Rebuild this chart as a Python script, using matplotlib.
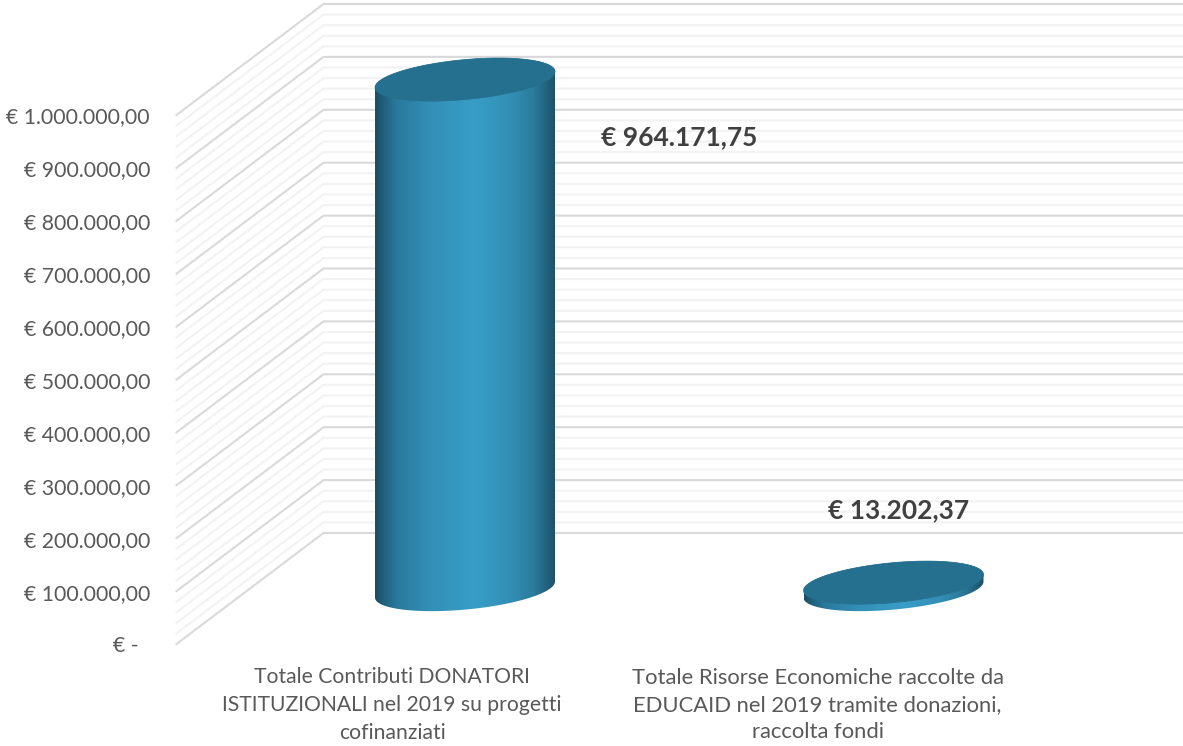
import numpy as np
import matplotlib
matplotlib.use('Agg')
import matplotlib.pyplot as plt
from matplotlib.colors import LinearSegmentedColormap
from matplotlib.patches import Polygon

# dati
categories = ['Totale Contributi DONATORI\nISTITUZIONALI nel 2019 su progetti\ncofinanziati',
              'Totale Risorse Economiche raccolte da\nEDUCAID nel 2019 tramite donazioni,\nraccolta fondi']
values = [964171.75, 13202.37]
value_labels = ['€ 964.171,75', '€ 13.202,37']
major_ticks = [0, 100000, 200000, 300000, 400000, 500000, 600000, 700000, 800000, 900000, 1000000]
tick_labels = ['€ -  ', '€ 100.000,00', '€ 200.000,00', '€ 300.000,00', '€ 400.000,00', '€ 500.000,00',
               '€ 600.000,00', '€ 700.000,00', '€ 800.000,00', '€ 900.000,00', '€ 1.000.000,00']

W, H = 1183, 746
FRONT_X0 = 176.5     # px of the front left corner
ZERO_Y = 644.0       # px of value 0 on the front
PX_CAT = 429.5       # px per category
PX_EURO = 529 / 1e6  # px per euro
DEPTH_X = 147.0 / PX_CAT
DEPTH_Y = 111.0 / PX_EURO

plt.rcParams['font.family'] = ['Lato', 'DejaVu Sans']
fig = plt.figure(figsize=(W / 100, H / 100), dpi=100)
ax = fig.add_axes([0, 0, 1, 1])
ax.set_xlim((0 - FRONT_X0) / PX_CAT, (W - FRONT_X0) / PX_CAT)
ax.set_ylim((ZERO_Y - H) / PX_EURO, ZERO_Y / PX_EURO)
ax.axis('off')


def px_x(px):
    return (px - FRONT_X0) / PX_CAT


def px_y(py):
    return (ZERO_Y - py) / PX_EURO


# griglia sulle pareti (minor ogni 20k, major ogni 100k)
for val in np.arange(0, 1000001, 20000):
    if val % 100000 == 0:
        continue
    ax.plot([0, DEPTH_X, 2 + DEPTH_X], [val, val + DEPTH_Y, val + DEPTH_Y],
            color='#F2F2F2', lw=1.5, zorder=1, solid_joinstyle='miter')
for val in major_ticks:
    ax.plot([0, DEPTH_X, 2 + DEPTH_X], [val, val + DEPTH_Y, val + DEPTH_Y],
            color='#D9D9D9', lw=1.5, zorder=2, solid_joinstyle='miter')

for val, lab in zip(major_ticks, tick_labels):
    ax.text(px_x(150), val - 2.5 / PX_EURO, lab, ha='right', va='center', fontsize=15.3, color='#595959')

cat_label_x = [392, 817.5]
cat_label_size = [15.2, 15.8]
for lx, fs, lab in zip(cat_label_x, cat_label_size, categories):
    ax.text(px_x(lx), px_y(705), lab, ha='center', va='center', fontsize=fs,
            color='#595959', linespacing=30 / (fs * 1.333))

# cilindri
gradient = LinearSegmentedColormap.from_list('cyl', [
    (0.0, '#1C4E64'), (0.04, '#215F7A'), (0.12, '#2A7A9E'), (0.3, '#338FB6'),
    (0.55, '#389EC7'), (0.75, '#338FB5'), (0.88, '#2B7B9C'), (0.96, '#215F79'), (1.0, '#1D5268')])
HALF_W = 90 / PX_CAT
SHEAR = 8 / PX_EURO
MINOR = 20 / PX_EURO
DEPTH_POS = 0.49
COL_X = [465, 893.5]  # px centre of each column


def ellipse(cx, cy, t):
    return cx + HALF_W * np.cos(t), cy + SHEAR * np.cos(t) + MINOR * np.sin(t)


for col_px, val in zip(COL_X, values):
    cx = px_x(col_px)
    cy = DEPTH_POS * DEPTH_Y
    bx, by = ellipse(cx, cy, np.linspace(np.pi, 2 * np.pi, 120))
    tx, ty = ellipse(cx, cy + val, np.linspace(0, np.pi, 120))
    body = np.column_stack([np.r_[bx, tx], np.r_[by, ty]])
    im = ax.imshow(np.linspace(0, 1, 400).reshape(1, -1), cmap=gradient, aspect='auto',
                   extent=[cx - HALF_W, cx + HALF_W, cy - 2 * MINOR, cy + val + 2 * MINOR],
                   interpolation='bilinear', zorder=3)
    patch = Polygon(body, closed=True, transform=ax.transData, facecolor='none', edgecolor='none')
    ax.add_patch(patch)
    im.set_clip_path(patch)
    ex, ey = ellipse(cx, cy + val, np.linspace(0, 2 * np.pi, 240))
    ax.fill(ex, ey, color='#26708F', lw=0.5, zorder=4)

ax.set_xlim((0 - FRONT_X0) / PX_CAT, (W - FRONT_X0) / PX_CAT)
ax.set_ylim((ZERO_Y - H) / PX_EURO, ZERO_Y / PX_EURO)

# etichette valore
label_pos = [(679, 137), (898.5, 510)]
for (lx, ly), lab in zip(label_pos, value_labels):
    ax.text(px_x(lx), px_y(ly), lab, ha='center', va='center', fontsize=19, fontweight='bold', color='#404040')

fig.savefig('out.png', dpi=100, facecolor='white')
